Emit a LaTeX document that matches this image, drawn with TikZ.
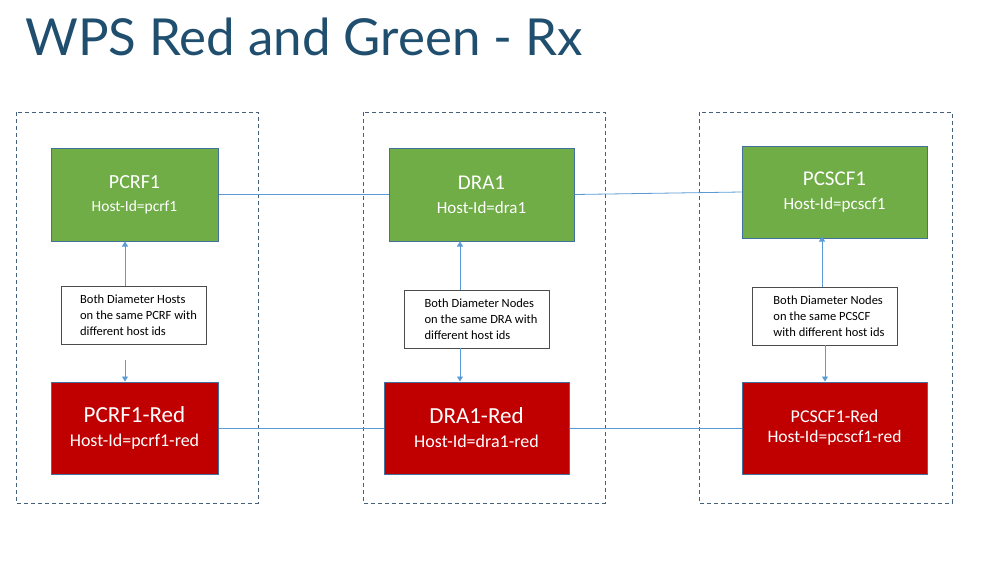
\documentclass[tikz,border=0pt]{standalone}
\usepackage{fontspec}
\setmainfont{Carlito}
\newfontfamily\titlefont{Lato}
\usetikzlibrary{arrows.meta,positioning}
\definecolor{boxgreen}{HTML}{70AD47}
\definecolor{boxred}{HTML}{C00000}
\definecolor{boxedge}{HTML}{41719C}
\definecolor{linkblue}{HTML}{5B9BD5}
\definecolor{framegray}{HTML}{44607A}
\definecolor{titleblue}{HTML}{1F4E6E}
\tikzset{
  frame/.style={draw=framegray, dashed, line width=0.9pt, dash pattern=on 4pt off 3pt},
  green/.style={draw=boxedge, line width=1pt, fill=boxgreen, text=white, minimum width=167pt, minimum height=93pt, align=center, inner sep=0pt},
  red/.style={draw=boxedge, line width=1pt, fill=boxred, text=white, minimum width=167pt, minimum height=92pt, align=center, inner sep=0pt},
  note/.style={draw=black!70, line width=0.6pt, fill=white, minimum width=145pt, minimum height=58pt, align=left, font=\fontsize{12.5}{16}\selectfont, inner sep=0pt},
  link/.style={draw=linkblue, line width=0.8pt},
  up/.style={link, -{Triangle[length=5pt, width=6pt]}}
}
\begin{document}
\begin{tikzpicture}[x=1pt, y=-1pt]
\useasboundingbox (0,0) rectangle (999,560);
\node[anchor=base west, text=titleblue, font=\titlefont\fontsize{51}{55}\selectfont, inner sep=0pt] (title) at (25,55) {WPS Red and Green - Rx};
% dashed frames
\draw[frame] (16,112) rectangle (258,503);
\draw[frame] (363,112) rectangle (605,503);
\draw[frame] (699,112) rectangle (952,503);
% green hosts
\node[green, font=\fontsize{20}{24}\selectfont] (pcrf) at (134.5,194.5) {PCRF1\\[-1pt]{\fontsize{15.5}{19}\selectfont Host-Id=pcrf1}};
\node[green, minimum width=185pt, font=\fontsize{21}{25}\selectfont] (dra) at (481.5,194.5) {DRA1\\[-1pt]{\fontsize{17}{20}\selectfont Host-Id=dra1}};
\node[green, minimum width=185pt, minimum height=92pt, font=\fontsize{21}{25}\selectfont] (pcscf) at (834.5,192) {PCSCF1\\[-1pt]{\fontsize{17}{20}\selectfont Host-Id=pcscf1}};
% red hosts
\node[red, font=\fontsize{23}{27}\selectfont] (pcrfred) at (134.5,428) {PCRF1-Red\\[-3pt]{\fontsize{18}{21}\selectfont Host-Id=pcrf1-red}};
\node[red, minimum width=185pt, font=\fontsize{23}{27}\selectfont] (drared) at (476.5,428) {DRA1-Red\\[-3pt]{\fontsize{18}{21}\selectfont Host-Id=dra1-red}};
\node[red, minimum width=185pt, font=\fontsize{18}{22}\selectfont] (pcscfred) at (834.5,428) {PCSCF1-Red\\[-2pt]{\fontsize{17.5}{21}\selectfont Host-Id=pcscf1-red}};
% notes
\node[note] (pcrfnote) at (134,315) {\hspace*{9pt}Both Diameter Hosts\\\hspace*{9pt}on the same PCRF with\\\hspace*{9pt}different host ids\hfill\hspace*{0pt}};
\node[note] (dranote) at (476.5,319) {\hspace*{9pt}Both Diameter Nodes\\\hspace*{9pt}on the same DRA with\\\hspace*{9pt}different host ids\hfill\hspace*{0pt}};
\node[note] (pcscfnote) at (824.5,316) {\hspace*{9pt}Both Diameter Nodes\\\hspace*{9pt}on the same PCSCF\\\hspace*{9pt}with different host ids\hfill\hspace*{0pt}};
% links
\draw[link] (pcrf.east) -- (dra.west);
\draw[link] (dra.east) -- (pcscf.west);
\draw[link] (pcrfred.east) -- (drared.west);
\draw[link] (drared.east) -- (pcscfred.west);
\coordinate (pcrfgap) at (125,360);
\draw[up] (pcrfnote.north -| 125,0) -- (pcrf.south -| 125,0);
\draw[up] (pcrfgap) -- (pcrfred.north -| pcrfgap);
\draw[up] (dranote.north -| 460,0) -- (dra.south -| 460,0);
\draw[up] (dranote.south -| 460,0) -- (drared.north -| 460,0);
\draw[up] (pcscfnote.north -| 822,0) -- ([yshift=2pt]pcscf.south -| 822,0);
\draw[up] (pcscfnote.south -| 825,0) -- (pcscfred.north -| 825,0);
\end{tikzpicture}
\end{document}
